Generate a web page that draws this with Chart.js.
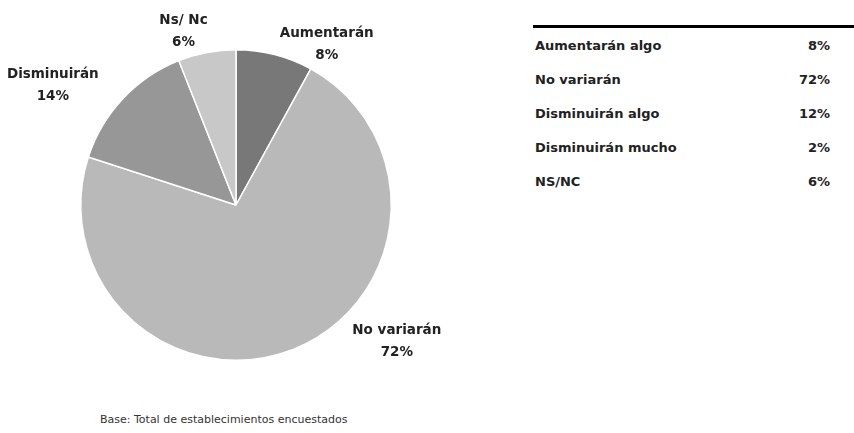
<!DOCTYPE html>
<html>
<head>
<meta charset="utf-8">
<script src="https://cdn.jsdelivr.net/npm/chart.js@4"></script>
<style>
  body { margin: 0; background: #fff; width: 854px; height: 433px; overflow: hidden; position: relative; font-family: "DejaVu Sans", sans-serif; }
  #pie-wrap { position: absolute; left: 0; top: 0; width: 480px; height: 400px; }
  #table-wrap { position: absolute; left: 533px; top: 25px; width: 321px; border-top: 3px solid #000; }
  .row { height: 34px; display: flex; align-items: center; font-size: 13px; font-weight: bold; color: #222; }
  .row .lab { padding-left: 2px; width: 255px; }
  .row .val { width: 40px; text-align: right; }
  #note { position: absolute; left: 100px; top: 413px; font-size: 11px; color: #333; }
</style>
</head>
<body>
<div id="pie-wrap"><canvas id="pie-chart"></canvas></div>
<div id="table-wrap"></div>
<div id="note">Base: Total de establecimientos encuestados</div>
<script>
// pie data //
const pieLabels = ["Aumentarán", "No variarán", "Disminuirán", "Ns/ Nc"];
const pieValues = [8, 72, 14, 6];
const pieColors = ['#787878', '#b9b9b9', '#979797', '#c8c8c8'];

// table data //
const tableLabels = ["Aumentarán algo", "No variarán", "Disminuirán algo", "Disminuirán mucho", "NS/NC"];
const tableValues = [8, 72, 12, 2, 6];

// label placement (angle shift in degrees, distance as factor of radius)
const labelShift = [15, -28, -10, -6];
const labelDist = [1.19, 1.36, 1.41, 1.17];

const pieLabelPlugin = {
  id: 'pieLabels',
  afterDatasetsDraw(chart) {
    const ctx = chart.ctx;
    const meta = chart.getDatasetMeta(0);
    ctx.save();
    ctx.font = 'bold 13.5px "DejaVu Sans"';
    ctx.fillStyle = '#222';
    ctx.textAlign = 'center';
    ctx.textBaseline = 'middle';
    meta.data.forEach((arc, i) => {
      const mid = (arc.startAngle + arc.endAngle) / 2 + labelShift[i] * Math.PI / 180;
      const r = arc.outerRadius * labelDist[i];
      const x = arc.x + Math.cos(mid) * r;
      const y = arc.y + Math.sin(mid) * r;
      ctx.fillText(pieLabels[i], x, y - 11);
      ctx.fillText(pieValues[i] + '%', x, y + 11);
    });
    ctx.restore();
  }
};

const pieCanvas = document.querySelector('#pie-chart');

let pieChart = new Chart(pieCanvas, {
  type: 'pie',
  data: {
    labels: pieLabels,
    datasets: [{
      data: pieValues,
      backgroundColor: pieColors,
      borderColor: '#fff',
      borderWidth: 1.5
    }]
  },
  options: {
    responsive: true,
    maintainAspectRatio: false,
    animation: false,
    layout: {
      padding: { left: 80, right: 88, top: 49, bottom: 39 }
    },
    plugins: {
      legend: { display: false },
      tooltip: { enabled: false }
    }
  },
  plugins: [pieLabelPlugin]
});

// table //
const tableWrap = document.querySelector('#table-wrap');
tableLabels.forEach((lab, i) => {
  const row = document.createElement('div');
  row.className = 'row';
  row.innerHTML = '<span class="lab">' + lab + '</span><span class="val">' + tableValues[i] + '%</span>';
  tableWrap.appendChild(row);
});
</script>
</body>
</html>
